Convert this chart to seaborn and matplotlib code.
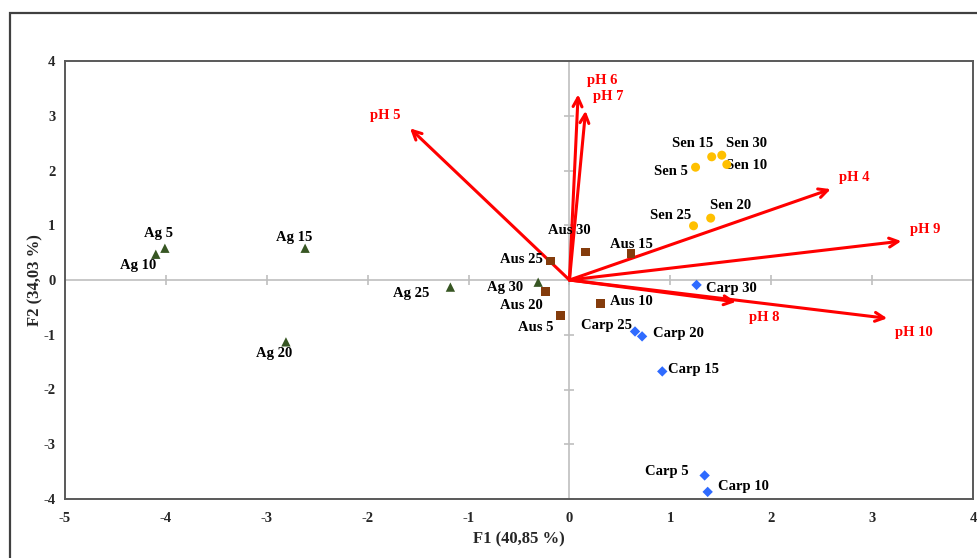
import matplotlib
matplotlib.use("Agg")
import matplotlib.pyplot as plt
import seaborn as sns
import pandas as pd
from matplotlib.patches import Rectangle

# ---- data ----
samples = ["Ag 5", "Ag 10", "Ag 15", "Ag 20", "Ag 25", "Ag 30",
           "Aus 5", "Aus 10", "Aus 15", "Aus 20", "Aus 25", "Aus 30",
           "Sen 5", "Sen 10", "Sen 15", "Sen 20", "Sen 25", "Sen 30",
           "Carp 5", "Carp 10", "Carp 15", "Carp 20", "Carp 25", "Carp 30"]
groups = ["Ag"] * 6 + ["Aus"] * 6 + ["Sen"] * 6 + ["Carp"] * 6
f1 = [-4.01, -4.10, -2.62, -2.81, -1.18, -0.31,
      -0.09, 0.31, 0.61, -0.24, -0.19, 0.16,
      1.25, 1.56, 1.41, 1.40, 1.23, 1.51,
      1.34, 1.37, 0.92, 0.72, 0.65, 1.26]
f2 = [0.58, 0.47, 0.58, -1.13, -0.13, -0.04,
      -0.65, -0.43, 0.48, -0.21, 0.35, 0.51,
      2.06, 2.11, 2.25, 1.13, 0.99, 2.28,
      -3.57, -3.87, -1.67, -1.03, -0.94, -0.09]
# label offsets (pixels) relative to each point
label_dx = [-6, -18, -11, -12, -39, -33,
            -25, 31, 0, -24, -29, -16,
            -25, 20, -19, 20, -23, 25,
            -38, 36, 31, 36, -29, 35]
label_dy = [15, -11, 11, -12, -6, -5,
            -12, 2, 9, -14, 1, 22,
            -4, -1, 13, 13, 10, 12,
            4, 5, 2, 3, 6, -4]

variables = ["pH 4", "pH 5", "pH 6", "pH 7", "pH 8", "pH 9", "pH 10"]
var_f1 = [2.59, -1.58, 0.086, 0.16, 1.65, 3.29, 3.15]
var_f2 = [1.66, 2.77, 3.39, 3.09, -0.40, 0.71, -0.70]
var_dx = [24, -25, 24, 23, 28, 24, 27]
var_dy = [12, 13, 14, 14, -16, 12, -14]

xticks = [-5, -4, -3, -2, -1, 0, 1, 2, 3, 4]
yticks = [-4, -3, -2, -1, 0, 1, 2, 3, 4]

xlabel = "F1 (40,85 %)"
ylabel = "F2 (34,03 %)"

palette = {"Ag": "#375623", "Aus": "#843C0C", "Sen": "#FFC000", "Carp": "#2F6BFF"}
markers = {"Ag": "^", "Aus": "s", "Sen": "o", "Carp": "D"}
sizes = {"Ag": 45, "Aus": 38, "Sen": 42, "Carp": 28}

df = pd.DataFrame({"sample": samples, "group": groups, "F1": f1, "F2": f2})

sns.set_theme(style="white")
plt.rcParams["font.family"] = ["Liberation Serif", "DejaVu Serif"]
plt.rcParams["font.weight"] = "bold"

fig = plt.figure(figsize=(9.77, 5.58), dpi=100)
ax = fig.add_axes([65 / 977, 1 - 499 / 558, (973 - 65) / 977, (499 - 61) / 558])

# outer figure frame
fig.patches.append(Rectangle((10 / 977, -0.05), 1.2, 1.05 - 13 / 558,
                             transform=fig.transFigure, fill=False,
                             edgecolor="#404040", linewidth=1.6, zorder=0))

# zero lines with crossing tick marks
ax.axhline(0, color="#BFBFBF", lw=1.2, zorder=1)
ax.axvline(0, color="#BFBFBF", lw=1.2, zorder=1)
ax.scatter(xticks, [0] * len(xticks), marker="|", s=45, color="#BFBFBF", lw=1.2, zorder=1)
ax.scatter([0] * len(yticks), yticks, marker="_", s=45, color="#BFBFBF", lw=1.2, zorder=1)

# variable arrows
for name, vx, vy, dx, dy in zip(variables, var_f1, var_f2, var_dx, var_dy):
    ax.annotate("", xy=(vx, vy), xytext=(0, 0),
                arrowprops=dict(arrowstyle="->", color="#FF0000", lw=2.2,
                                mutation_scale=16, shrinkA=0, shrinkB=0),
                zorder=3)
    ax.annotate(name, xy=(vx, vy), xytext=(dx, dy), textcoords="offset pixels",
                ha="center", va="center", color="#FF0000", fontsize=10.5,
                fontweight="bold")

# observations
for g in ["Ag", "Aus", "Sen", "Carp"]:
    sub = df[df["group"] == g]
    sns.scatterplot(data=sub, x="F1", y="F2", color=palette[g], marker=markers[g],
                    s=sizes[g], edgecolor="none", ax=ax, zorder=4, legend=False)

for name, x, y, dx, dy in zip(samples, f1, f2, label_dx, label_dy):
    ax.annotate(name, xy=(x, y), xytext=(dx, dy), textcoords="offset pixels",
                ha="center", va="center", color="black", fontsize=10.5,
                fontweight="bold")

ax.set_xlim(-5, 4)
ax.set_ylim(-4, 4)
ax.set_xticks(xticks)
ax.set_yticks(yticks)
ax.set_xticklabels([str(t) for t in xticks], fontsize=10.5, fontweight="bold")
ax.set_yticklabels([str(t) for t in yticks], fontsize=10.5, fontweight="bold")
ax.tick_params(axis="both", length=0)
ax.tick_params(axis="x", pad=9)
ax.tick_params(axis="y", pad=7)
ax.set_xlabel(xlabel, fontsize=12, fontweight="bold", labelpad=5)
ax.set_ylabel(ylabel, fontsize=12, fontweight="bold", labelpad=0)
for sp in ax.spines.values():
    sp.set_color("#595959")
    sp.set_linewidth(1.4)

fig.savefig("out.png", dpi=100)
